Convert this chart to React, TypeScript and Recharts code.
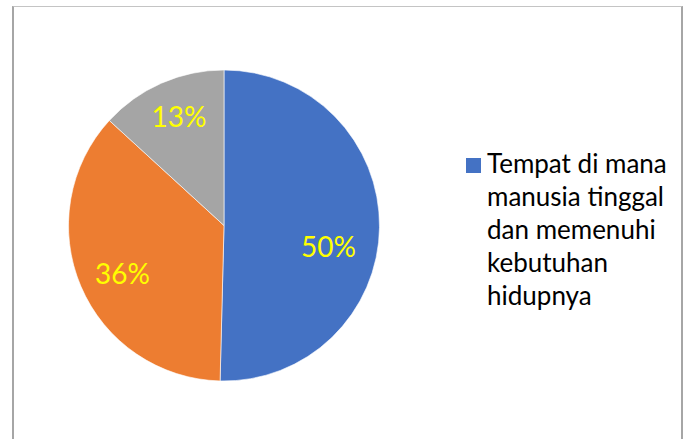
import React from 'react';
import { PieChart, Pie, Cell, Legend } from 'recharts';

const categories = [
  'Tempat di mana manusia tinggal dan memenuhi kebutuhan hidupnya',
  'Kategori 2',
  'Kategori 3',
];
const values = [50.4, 36.4, 13.2];
const colors = ['#4472C4', '#ED7D31', '#A5A5A5'];
const legendShown = [0];
// small per-label nudges (px) to match the original label placement
const labelNudge: [number, number][] = [[-7.5, 19], [1.6, 4], [0, -6.7]];

const data = categories.map((name, i) => ({ name, value: values[i] }));

const RAD = Math.PI / 180;
const FONT = 'Lato, "Open Sans", sans-serif';

const renderLabel = (props: any) => {
  const { cx, cy, midAngle, percent, index } = props;
  const r = 112;
  const [dx, dy] = labelNudge[index] || [0, 0];
  const x = cx + r * Math.cos(-midAngle * RAD) + dx;
  const y = cy + r * Math.sin(-midAngle * RAD) + dy;
  return (
    <text
      x={x}
      y={y}
      fill="#FFFF00"
      textAnchor="middle"
      dominantBaseline="central"
      fontSize={28}
      fontFamily={FONT}
    >
      {`${Math.round(percent * 100)}%`}
    </text>
  );
};

const renderLegend = () => (
  <div style={{ fontFamily: FONT }}>
    {legendShown.map((i) => (
      <div key={i} style={{ display: 'flex', alignItems: 'flex-start' }}>
        <div
          style={{
            width: 15,
            height: 15,
            background: colors[i],
            marginTop: 11,
            marginRight: 6,
            flexShrink: 0,
          }}
        />
        <div style={{ width: 198, fontSize: 26, lineHeight: '33px', color: '#000' }}>
          {categories[i]}
        </div>
      </div>
    ))}
  </div>
);

export default function App() {
  return (
    <div style={{ position: 'absolute', left: 0, top: 0, width: 689, height: 439, background: '#fff', overflow: 'hidden' }}>
      <div
        style={{
          position: 'absolute',
          left: 12,
          top: 6,
          width: 667,
          height: 460,
          borderLeft: '2px solid #a6a6a6',
          borderRight: '2px solid #a6a6a6',
          borderTop: '1px solid #c4c4c4',
        }}
      />
      <div style={{ position: 'absolute', left: 0, top: 0 }}>
        <PieChart width={689} height={439} margin={{ top: 0, right: 0, bottom: 0, left: 0 }}>
          <Pie
            data={data}
            dataKey="value"
            nameKey="name"
            cx={224}
            cy={225.5}
            outerRadius={155.5}
            startAngle={90}
            endAngle={-270}
            stroke="#ffffff"
            strokeWidth={0.6}
            label={renderLabel}
            labelLine={false}
            isAnimationActive={false}
          >
            {data.map((d, i) => (
              <Cell key={d.name} fill={colors[i]} />
            ))}
          </Pie>
          <Legend
            content={renderLegend}
            wrapperStyle={{ position: 'absolute', left: 466, top: 147, width: 220, height: 180 }}
          />
        </PieChart>
      </div>
    </div>
  );
}
